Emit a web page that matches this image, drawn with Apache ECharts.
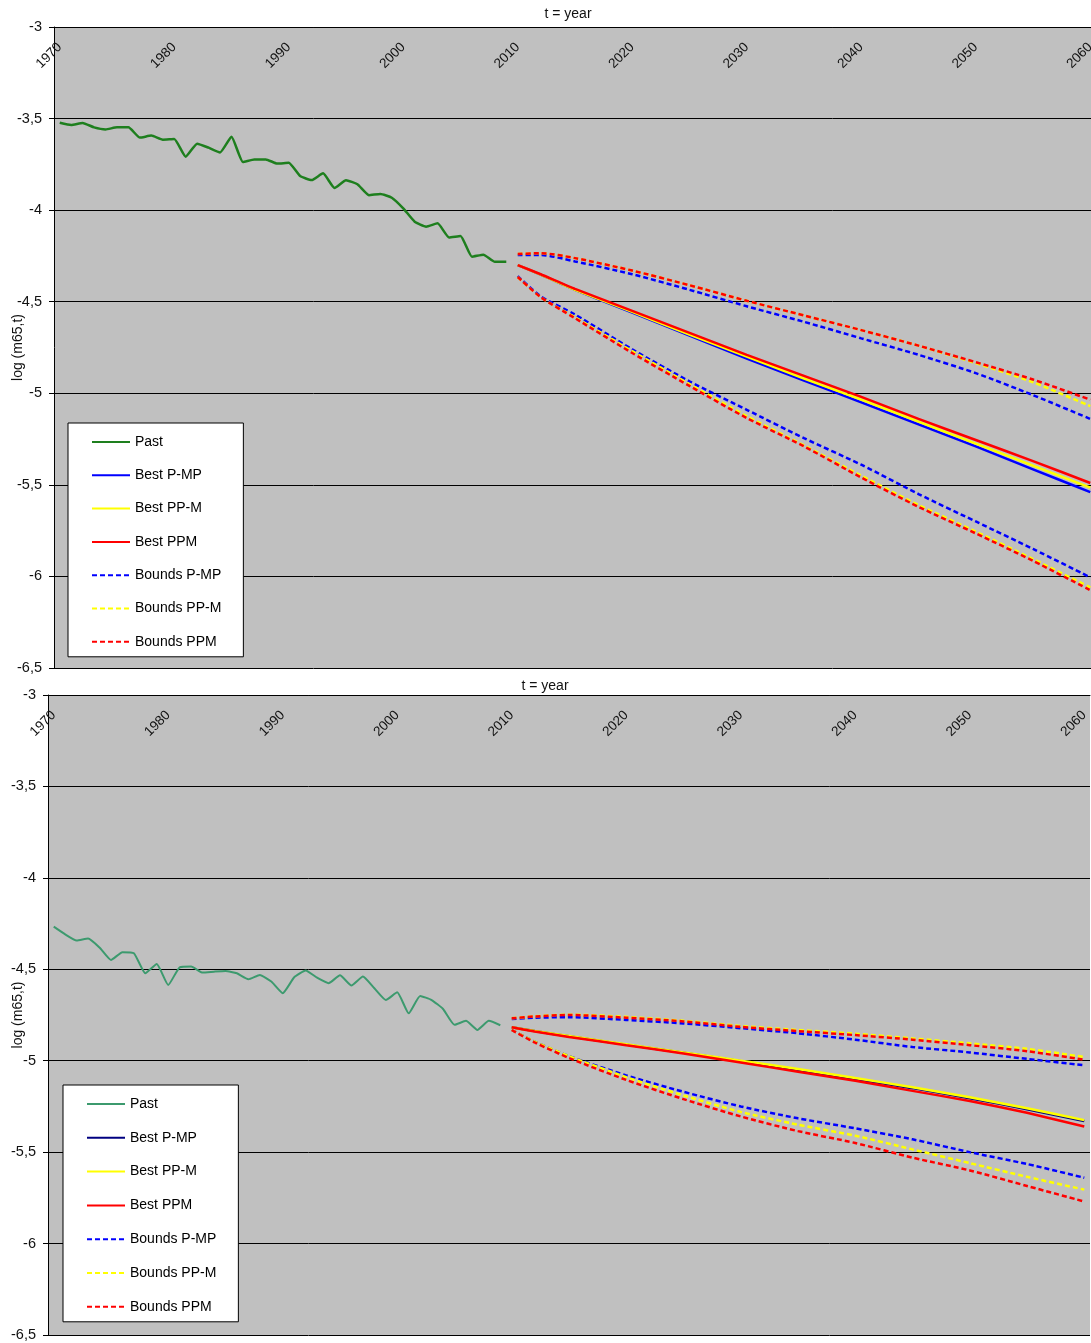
<!DOCTYPE html>
<html>
<head>
<meta charset="utf-8">
<script src="https://cdn.jsdelivr.net/npm/echarts@6/dist/echarts.min.js"></script>
<style>
  html, body { margin: 0; padding: 0; background: #fff; }
  #chart-a { position: absolute; left: 0; top: 0; width: 1091px; height: 690px; }
  #chart-b { position: absolute; left: 0; top: 672px; width: 1091px; height: 671px; }
</style>
</head>
<body>
<div id="chart-a"></div>
<div id="chart-b"></div>
<script>
// category axis: one slot per year
const years = [];
for (let y = 1970; y <= 2060; y++) years.push(String(y));
const pastYears = years.slice(0, 40);
const fcYears = ['2010', '2012', '2015', '2020', '2025', '2030', '2035', '2040', '2045', '2050', '2055', '2060'];

// ---- top panel ----
const pastA = [-3.523, -3.535, -3.524, -3.548, -3.559, -3.548, -3.548, -3.604, -3.593, -3.615,
  -3.612, -3.708, -3.637, -3.659, -3.685, -3.599, -3.737, -3.723, -3.723, -3.746,
  -3.741, -3.814, -3.836, -3.799, -3.879, -3.837, -3.859, -3.918, -3.912, -3.932,
  -3.990, -4.063, -4.090, -4.072, -4.149, -4.141, -4.254, -4.243, -4.282, -4.282];
const bestPmpA = [-4.30, -4.352, -4.435, -4.56, -4.685, -4.81, -4.93, -5.05, -5.17, -5.29, -5.415, -5.54];
const bestPpMA = [-4.30, -4.352, -4.435, -4.555, -4.68, -4.80, -4.92, -5.035, -5.155, -5.275, -5.395, -5.515];
const bestPpmA = [-4.30, -4.35, -4.43, -4.55, -4.67, -4.79, -4.905, -5.02, -5.14, -5.255, -5.37, -5.49];
const upPmpA = [-4.245, -4.245, -4.28, -4.35, -4.435, -4.525, -4.61, -4.70, -4.79, -4.89, -5.01, -5.14];
const upPpMA = [-4.24, -4.235, -4.262, -4.33, -4.41, -4.495, -4.575, -4.655, -4.74, -4.835, -4.94, -5.07];
const upPpmA = [-4.24, -4.235, -4.262, -4.33, -4.41, -4.495, -4.575, -4.655, -4.74, -4.83, -4.925, -5.035];
const loPmpA = [-4.36, -4.47, -4.57, -4.76, -4.935, -5.09, -5.245, -5.39, -5.55, -5.70, -5.85, -6.005];
const loPpMA = [-4.365, -4.475, -4.585, -4.77, -4.95, -5.125, -5.285, -5.45, -5.61, -5.755, -5.905, -6.06];
const loPpmA = [-4.365, -4.475, -4.59, -4.78, -4.96, -5.135, -5.29, -5.46, -5.62, -5.765, -5.915, -6.075];

// ---- bottom panel ----
const pastB = [-4.267, -4.309, -4.343, -4.332, -4.381, -4.449, -4.407, -4.412, -4.522, -4.471,
  -4.586, -4.489, -4.485, -4.518, -4.513, -4.509, -4.522, -4.554, -4.531, -4.567,
  -4.631, -4.544, -4.507, -4.546, -4.576, -4.533, -4.589, -4.540, -4.604, -4.668,
  -4.626, -4.741, -4.646, -4.668, -4.717, -4.804, -4.782, -4.832, -4.782, -4.806];
const bestPmpB = [-4.817, -4.838, -4.866, -4.912, -4.957, -5.003, -5.05, -5.10, -5.15, -5.205, -5.265, -5.33];
const bestPpMB = [-4.817, -4.838, -4.865, -4.91, -4.955, -5.0, -5.045, -5.095, -5.145, -5.2, -5.26, -5.325];
const bestPpmB = [-4.817, -4.84, -4.87, -4.915, -4.96, -5.01, -5.06, -5.11, -5.165, -5.22, -5.285, -5.36];
const upPmpB = [-4.772, -4.765, -4.762, -4.777, -4.796, -4.822, -4.85, -4.885, -4.925, -4.955, -4.99, -5.025];
const upPpMB = [-4.768, -4.757, -4.748, -4.76, -4.782, -4.81, -4.832, -4.852, -4.878, -4.905, -4.935, -4.98];
const upPpmB = [-4.768, -4.758, -4.75, -4.765, -4.785, -4.815, -4.838, -4.86, -4.885, -4.915, -4.948, -4.995];
const loPmpB = [-4.832, -4.895, -4.975, -5.08, -5.17, -5.25, -5.315, -5.37, -5.43, -5.50, -5.565, -5.64];
const loPpMB = [-4.832, -4.895, -4.975, -5.09, -5.19, -5.28, -5.35, -5.41, -5.485, -5.56, -5.635, -5.705];
const loPpmB = [-4.832, -4.9, -4.985, -5.105, -5.21, -5.305, -5.385, -5.45, -5.53, -5.6, -5.685, -5.77];

const legendNames = ['Past', 'Best P-MP', 'Best PP-M', 'Best PPM', 'Bounds P-MP', 'Bounds PP-M', 'Bounds PPM'];
const FONT = '"Liberation Sans", Arial, sans-serif';
const DASH = [5, 3];

const pair = (xs, vs) => xs.map((x, i) => [x, vs[i]]);

function line(name, xs, vs, color, dashed, width) {
  return {
    name,
    type: 'line',
    data: pair(xs, vs),
    symbol: 'none',
    smooth: dashed ? 0.25 : 0.15,
    lineStyle: { color, width: width || 2.5, type: dashed ? DASH : 'solid' },
    itemStyle: { color },
    emphasis: { disabled: true },
    animation: false,
  };
}

function panelOption(p) {
  return {
    animation: false,
    textStyle: { fontFamily: FONT },
    title: {
      text: 't = year', left: p.titleX - 5, top: p.titleY, textAlign: 'center',
      textStyle: { fontSize: 14, fontWeight: 'normal', color: '#111', fontFamily: FONT },
    },
    grid: {
      left: p.left, top: p.top, width: 1042, height: p.height,
      outerBoundsMode: 'none', containLabel: false,
      show: true, backgroundColor: '#c0c0c0', borderWidth: 0,
    },
    legend: {
      orient: 'vertical', left: p.legendLeft, top: p.legendTop,
      data: legendNames,
      itemWidth: 38, itemHeight: 14, itemGap: p.legendGap,
      padding: [12, 22, 8, 23],
      backgroundColor: '#fff', borderColor: '#000', borderWidth: 1,
      selectedMode: false,
      itemStyle: { color: 'rgba(0,0,0,0)', borderColor: 'rgba(0,0,0,0)', borderWidth: 0 },
      textStyle: { fontSize: 14, color: '#000', fontFamily: FONT },
    },
    xAxis: {
      type: 'category', position: 'top', data: years, boundaryGap: true,
      axisLine: { lineStyle: { color: '#000', width: 1 } },
      axisTick: { inside: true, length: 5, interval: 0, lineStyle: { color: '#000' } },
      axisLabel: { inside: true, interval: 9, rotate: -45, margin: 18, fontSize: 13.5, color: '#111' },
      splitLine: { show: false },
    },
    yAxis: {
      type: 'value', min: -6.5, max: -3, interval: 0.5,
      name: 'log (m65,t)', nameLocation: 'middle', nameGap: p.nameGap, nameMoveOverlap: false,
      nameTextStyle: { fontSize: 14, color: '#111', fontFamily: FONT },
      axisLine: { show: true, lineStyle: { color: '#000', width: 1 } },
      axisTick: { show: true, length: 5, lineStyle: { color: '#000' } },
      axisLabel: { fontSize: 14.5, color: '#111', margin: 12, formatter: v => String(v).replace('.', ',') },
      splitLine: { lineStyle: { color: '#000', width: 1 } },
    },
    series: [
      line('Past', pastYears, p.past, p.pastColor, false, p.pastWidth),
      line('Best P-MP', fcYears, p.bestPmp, p.bestPmpColor, false),
      line('Best PP-M', fcYears, p.bestPpM, '#ffff00', false),
      line('Best PPM', fcYears, p.bestPpm, '#ff0000', false),
      line('Bounds P-MP', fcYears, p.upPmp, '#0000ff', true),
      line('Bounds P-MP', fcYears, p.loPmp, '#0000ff', true),
      line('Bounds PP-M', fcYears, p.upPpM, '#ffff00', true),
      line('Bounds PP-M', fcYears, p.loPpM, '#ffff00', true),
      line('Bounds PPM', fcYears, p.upPpm, '#ff0000', true),
      line('Bounds PPM', fcYears, p.loPpm, '#ff0000', true),
    ],
  };
}

const chartA = echarts.init(document.getElementById('chart-a'));
chartA.setOption(panelOption({
  left: 54, top: 27, height: 641, titleX: 568, titleY: 2, nameGap: 29,
  legendLeft: 68, legendTop: 423, legendGap: 19.3, pastWidth: 2.5,
  pastColor: '#1e7f1e', bestPmpColor: '#0000ff',
  past: pastA, bestPmp: bestPmpA, bestPpM: bestPpMA, bestPpm: bestPpmA,
  upPmp: upPmpA, upPpM: upPpMA, upPpm: upPpmA,
  loPmp: loPmpA, loPpM: loPpMA, loPpm: loPpmA,
}));

const chartB = echarts.init(document.getElementById('chart-b'));
chartB.setOption(panelOption({
  left: 48, top: 23, height: 640, titleX: 545, titleY: 2, nameGap: 23,
  legendLeft: 63, legendTop: 413, legendGap: 19.8, pastWidth: 2,
  pastColor: '#3c9a6e', bestPmpColor: '#000080',
  past: pastB, bestPmp: bestPmpB, bestPpM: bestPpMB, bestPpm: bestPpmB,
  upPmp: upPmpB, upPpM: upPpMB, upPpm: upPpmB,
  loPmp: loPmpB, loPpM: loPpMB, loPpm: loPpmB,
}));
</script>
</body>
</html>
